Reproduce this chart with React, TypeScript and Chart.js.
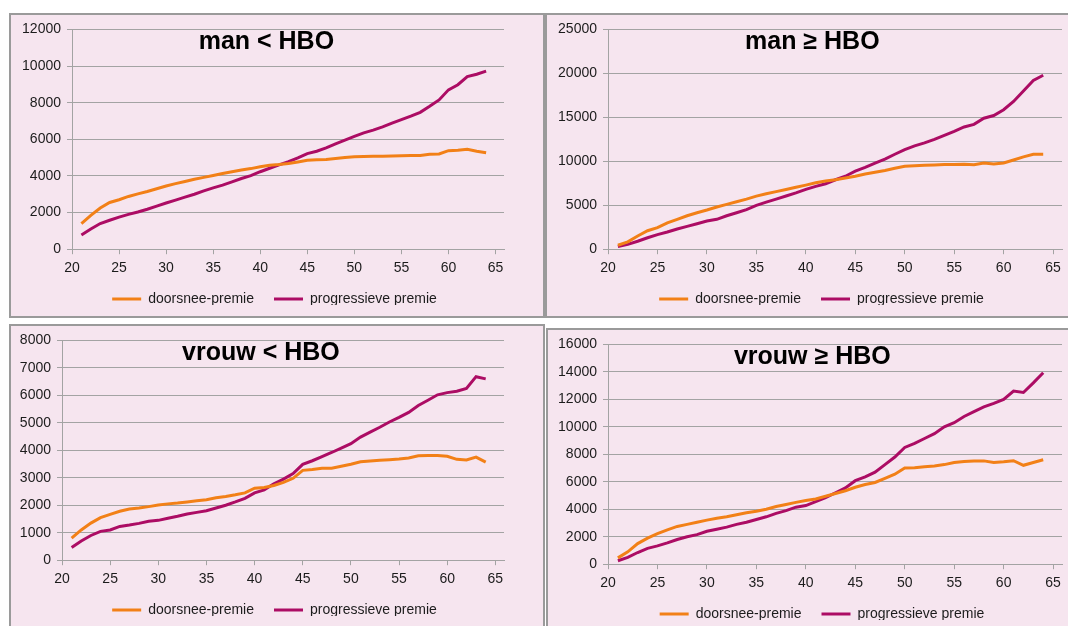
import React, { useEffect, useRef } from 'react';
import { Chart, registerables } from 'chart.js';

Chart.register(...registerables);

const ages = [21, 22, 23, 24, 25, 26, 27, 28, 29, 30, 31, 32, 33, 34, 35, 36, 37, 38, 39, 40, 41, 42, 43, 44, 45, 46, 47, 48, 49, 50, 51, 52, 53, 54, 55, 56, 57, 58, 59, 60, 61, 62, 63, 64];
const xTickLabels = [20, 25, 30, 35, 40, 45, 50, 55, 60, 65];

const seriesNames = ['doorsnee-premie', 'progressieve premie'];

const manLaagDoorsnee = [1400, 1850, 2250, 2550, 2700, 2880, 3020, 3150, 3300, 3450, 3580, 3700, 3820, 3920, 4020, 4130, 4230, 4320, 4400, 4500, 4580, 4620, 4680, 4760, 4850, 4880, 4900, 4950, 5000, 5050, 5060, 5070, 5080, 5090, 5100, 5110, 5120, 5180, 5200, 5380, 5400, 5450, 5350, 5270];
const manLaagProgressief = [780, 1100, 1400, 1580, 1750, 1900, 2030, 2180, 2350, 2520, 2680, 2840, 3000, 3180, 3350, 3500, 3680, 3860, 4020, 4230, 4420, 4600, 4780, 4980, 5220, 5350, 5530, 5750, 5950, 6160, 6350, 6500, 6680, 6880, 7070, 7260, 7470, 7800, 8150, 8700, 8980, 9420, 9550, 9720];

const manHoogDoorsnee = [450, 830, 1500, 2100, 2450, 3000, 3400, 3800, 4150, 4460, 4800, 5100, 5400, 5700, 6040, 6300, 6550, 6800, 7050, 7290, 7550, 7750, 7900, 8100, 8300, 8550, 8750, 8950, 9200, 9440, 9500, 9550, 9580, 9620, 9630, 9650, 9600, 9800, 9700, 9800, 10150, 10500, 10800, 10800];
const manHoogProgressief = [300, 550, 900, 1300, 1660, 1950, 2300, 2600, 2900, 3200, 3400, 3800, 4150, 4500, 4980, 5350, 5700, 6050, 6400, 6800, 7150, 7450, 7900, 8300, 8870, 9300, 9800, 10250, 10800, 11330, 11750, 12100, 12500, 12950, 13400, 13900, 14200, 14900, 15200, 15860, 16800, 18000, 19200, 19790];

const vrouwLaagDoorsnee = [800, 1100, 1350, 1550, 1670, 1780, 1860, 1900, 1950, 2010, 2050, 2080, 2120, 2160, 2200, 2270, 2320, 2380, 2450, 2620, 2650, 2720, 2830, 2980, 3270, 3300, 3350, 3350, 3420, 3490, 3580, 3610, 3640, 3660, 3680, 3720, 3800, 3810, 3810, 3780, 3670, 3650, 3750, 3570];
const vrouwLaagProgressief = [460, 700, 900, 1050, 1100, 1230, 1280, 1340, 1420, 1450, 1530, 1600, 1680, 1740, 1800, 1900, 2000, 2120, 2250, 2450, 2560, 2780, 2950, 3150, 3490, 3620, 3770, 3920, 4080, 4240, 4480, 4660, 4840, 5030, 5200, 5380, 5630, 5820, 6020, 6100, 6150, 6250, 6680, 6600];

const vrouwHoogDoorsnee = [460, 900, 1500, 1900, 2220, 2500, 2750, 2900, 3050, 3210, 3350, 3450, 3600, 3750, 3860, 4000, 4200, 4350, 4500, 4640, 4750, 4950, 5150, 5350, 5600, 5800, 5950, 6250, 6550, 7000, 7020, 7100, 7150, 7250, 7400, 7480, 7520, 7520, 7400, 7450, 7530, 7200, 7400, 7600];
const vrouwHoogProgressief = [250, 500, 850, 1150, 1330, 1550, 1800, 2000, 2150, 2400, 2550, 2700, 2900, 3050, 3250, 3450, 3700, 3900, 4150, 4270, 4550, 4850, 5200, 5550, 6080, 6350, 6700, 7250, 7800, 8500, 8800, 9150, 9500, 10000, 10300, 10750, 11100, 11450, 11700, 12000, 12600, 12500, 13200, 13940];

const ORANGE = '#F28017';
const PURPLE = '#AC0C64';
const GRID = '#A3A3A3';
const TEXT = '#1c1c1c';
const BG = '#F6E5EF';
const FONT_FAMILY = '"Liberation Sans", Arial, sans-serif';

type PanelProps = {
  left: number;
  top: number;
  width: number;
  height: number;
  title: string;
  doorsnee: number[];
  progressief: number[];
  yMax: number;
  yStep: number;
  yAxisWidth: number;
};

function Panel(props: PanelProps) {
  const ref = useRef<HTMLCanvasElement>(null);
  const { left, top, width, height, title, doorsnee, progressief, yMax, yStep, yAxisWidth } = props;
  const cw = width - 4;
  const ch = height - 4;

  useEffect(() => {
    if (!ref.current) return;
    const titlePlugin = {
      id: 'panelTitle',
      afterLayout(chart: any) {
        const lg = chart.legend;
        if (lg) {
          lg.left += 17;
          lg.right += 17;
          lg.top -= 11;
          lg.bottom -= 11;
        }
      },
      afterDraw(chart: any) {
        const { ctx, chartArea } = chart;
        ctx.save();
        ctx.font = `bold 25px ${FONT_FAMILY}`;
        ctx.fillStyle = '#000000';
        ctx.textAlign = 'center';
        ctx.textBaseline = 'middle';
        ctx.fillText(title, chartArea.left + chartArea.width * 0.45, chartArea.top + 13);
        ctx.restore();
      },
    };
    const font = { family: FONT_FAMILY, size: 14 };
    const chart = new Chart(ref.current, {
      type: 'line',
      data: {
        datasets: [
          {
            label: seriesNames[0],
            data: ages.map((a, i) => ({ x: a, y: doorsnee[i] })),
            borderColor: ORANGE,
            backgroundColor: ORANGE,
            borderWidth: 3,
            pointRadius: 0,
            tension: 0,
          },
          {
            label: seriesNames[1],
            data: ages.map((a, i) => ({ x: a, y: progressief[i] })),
            borderColor: PURPLE,
            backgroundColor: PURPLE,
            borderWidth: 3,
            pointRadius: 0,
            tension: 0,
          },
        ],
      },
      options: {
        animation: false,
        responsive: false,
        maintainAspectRatio: false,
        layout: { padding: { top: 14, right: 39, left: 0, bottom: 0 } },
        scales: {
          x: {
            type: 'linear',
            min: 20,
            max: 65.9,
            afterBuildTicks: (scale: any) => {
              scale.ticks = xTickLabels.map((v) => ({ value: v }));
            },
            ticks: { font, color: TEXT, padding: 6, maxRotation: 0, autoSkip: false, callback: (v: any) => String(v) },
            grid: { drawOnChartArea: false, drawTicks: true, tickLength: 5, color: GRID },
            border: { color: GRID },
          },
          y: {
            min: 0,
            max: yMax,
            ticks: { stepSize: yStep, font, color: TEXT, padding: 6, callback: (v: any) => String(v) },
            grid: { color: GRID, tickLength: 5 },
            border: { color: GRID },
            afterFit: (scale: any) => {
              scale.width = yAxisWidth;
            },
          },
        },
        plugins: {
          legend: {
            position: 'bottom',
            maxHeight: 33,
            labels: {
              usePointStyle: true,
              pointStyle: 'line',
              pointStyleWidth: 29,
              boxHeight: 14,
              padding: 20,
              font,
              color: TEXT,
            },
          },
          tooltip: { enabled: false },
          title: { display: false },
        },
      } as any,
      plugins: [titlePlugin],
    });
    return () => chart.destroy();
  }, []);

  return (
    <div
      style={{
        position: 'absolute',
        left,
        top,
        width,
        height,
        boxSizing: 'border-box',
        border: '2px solid #9a9a9a',
        background: BG,
      }}
    >
      <canvas ref={ref} width={cw} height={ch} style={{ display: 'block', width: cw, height: ch }} />
    </div>
  );
}

export default function App() {
  return (
    <div
      style={{
        position: 'fixed',
        left: 0,
        top: 0,
        width: 1068,
        height: 626,
        overflow: 'hidden',
        background: '#ffffff',
      }}
    >
      <Panel left={9} top={13} width={536} height={305} title="man < HBO" doorsnee={manLaagDoorsnee} progressief={manLaagProgressief} yMax={12000} yStep={2000} yAxisWidth={61} />
      <Panel left={545} top={13} width={558} height={305} title="man ≥ HBO" doorsnee={manHoogDoorsnee} progressief={manHoogProgressief} yMax={25000} yStep={5000} yAxisWidth={61} />
      <Panel left={9} top={324} width={536} height={305} title="vrouw < HBO" doorsnee={vrouwLaagDoorsnee} progressief={vrouwLaagProgressief} yMax={8000} yStep={1000} yAxisWidth={51} />
      <Panel left={546} top={328} width={557} height={305} title="vrouw ≥ HBO" doorsnee={vrouwHoogDoorsnee} progressief={vrouwHoogProgressief} yMax={16000} yStep={2000} yAxisWidth={60} />
    </div>
  );
}
